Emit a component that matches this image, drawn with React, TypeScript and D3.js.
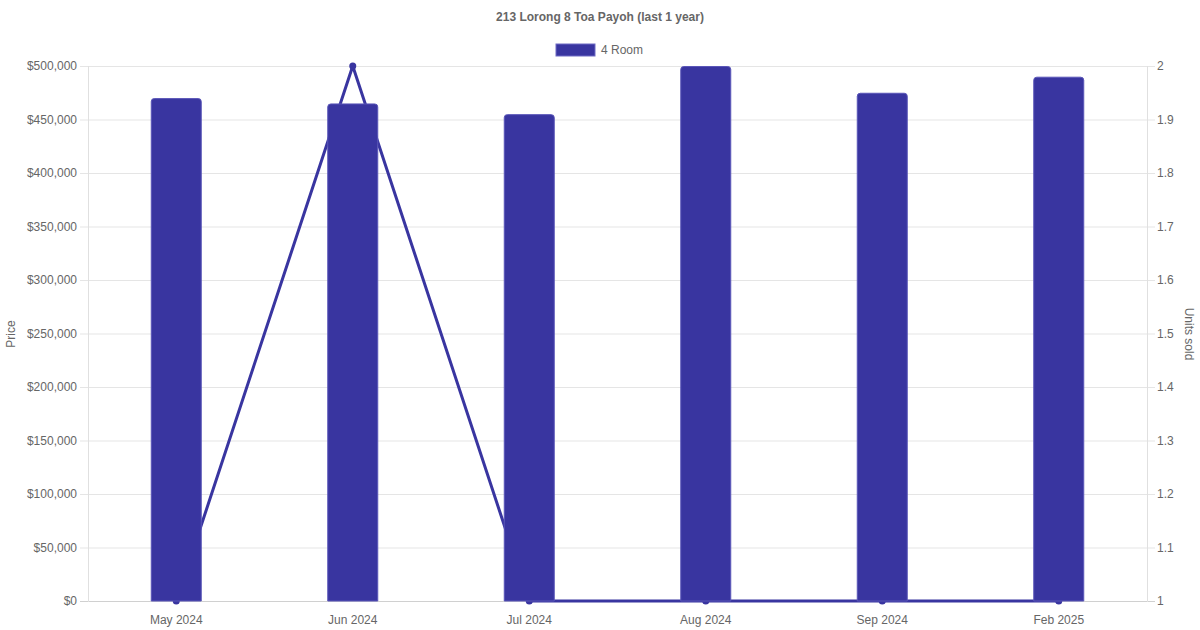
import React from "react";
import * as d3 from "d3";

const months = ["May 2024", "Jun 2024", "Jul 2024", "Aug 2024", "Sep 2024", "Feb 2025"];
const prices = [470000, 465000, 455000, 500000, 475000, 490000];
const units = [1, 2, 1, 1, 1, 1];
const priceTicks = [0, 50000, 100000, 150000, 200000, 250000, 300000, 350000, 400000, 450000, 500000];
const unitTicks = [1, 1.1, 1.2, 1.3, 1.4, 1.5, 1.6, 1.7, 1.8, 1.9, 2];

const W = 1200, H = 630;
const L = 88, R = 1147, T = 66, B = 601;
const FILL = "#3935a0";
const TXT = "#666";
const FONT = "'Liberation Sans', Arial, Helvetica, sans-serif";

export default function App() {
  const x = d3.scaleBand<string>().domain(months).range([L, R]);
  const y = d3.scaleLinear().domain([0, 500000]).range([B, T]);
  const y2 = d3.scaleLinear().domain([1, 2]).range([B, T]);
  const fmt = (v: number) => "$" + d3.format(",")(v);
  const bw = 50;
  const r = 3;
  const line = d3
    .line<number>()
    .x((_, i) => (x(months[i]) as number) + x.bandwidth() / 2)
    .y((d) => y2(d));

  const barPath = (cx: number, top: number) => {
    const x0 = cx - bw / 2, x1 = cx + bw / 2;
    const t = top + 0.5;
    return `M${x0},${B} L${x0},${t + r} Q${x0},${t} ${x0 + r},${t} L${x1 - r},${t} Q${x1},${t} ${x1},${t + r} L${x1},${B} Z`;
  };

  return (
    <svg width={W} height={H} style={{ position: "absolute", left: 0, top: 0, display: "block" }} fontFamily={FONT}>
      <rect width={W} height={H} fill="#fff" />
      <text x={600} y={21} textAnchor="middle" fontSize={12} fontWeight="bold" fill={TXT}>
        213 Lorong 8 Toa Payoh (last 1 year)
      </text>
      {/* legend */}
      <rect x={556} y={44} width={39} height={12} fill={FILL} stroke="#6f6bc4" strokeWidth={1} />
      <text x={601} y={54} fontSize={12} fill={TXT}>4 Room</text>

      {/* grid */}
      {priceTicks.map((t) => (
        <g key={t}>
          <line x1={80} x2={1155} y1={y(t) + 0.5} y2={y(t) + 0.5} stroke={t === 0 ? "#d0d0d0" : "#e5e5e5"} />
          <text x={77} y={y(t) + 4} textAnchor="end" fontSize={12} fill={TXT}>{fmt(t)}</text>
        </g>
      ))}
      {unitTicks.map((t) => (
        <text key={t} x={1157} y={y2(t) + 4} fontSize={12} fill={TXT}>{d3.format("~g")(t)}</text>
      ))}
      <line x1={L + 0.5} x2={L + 0.5} y1={T} y2={B + 1} stroke="#e0e0e0" />
      <line x1={R + 0.5} x2={R + 0.5} y1={T} y2={B + 1} stroke="#e0e0e0" />

      {/* axis titles */}
      <text transform={`translate(15,334) rotate(-90)`} textAnchor="middle" fontSize={12} fill={TXT}>Price</text>
      <text transform={`translate(1185,334) rotate(90)`} textAnchor="middle" fontSize={12} fill={TXT}>Units sold</text>

      {/* line (behind bars) */}
      <path d={line(units) || ""} fill="none" stroke={FILL} strokeWidth={3} strokeLinejoin="round" />
      {units.map((u, i) => (
        <circle key={i} cx={(x(months[i]) as number) + x.bandwidth() / 2} cy={y2(u)} r={3.5} fill={FILL} />
      ))}

      {/* bars */}
      {prices.map((p, i) => {
        const cx = (x(months[i]) as number) + x.bandwidth() / 2;
        return <path key={i} d={barPath(cx, y(p))} fill={FILL} stroke="#5a56b8" strokeWidth={1} />;
      })}

      {/* x labels */}
      {months.map((m) => (
        <text key={m} x={(x(m) as number) + x.bandwidth() / 2} y={624} textAnchor="middle" fontSize={12} fill={TXT}>{m}</text>
      ))}
    </svg>
  );
}
